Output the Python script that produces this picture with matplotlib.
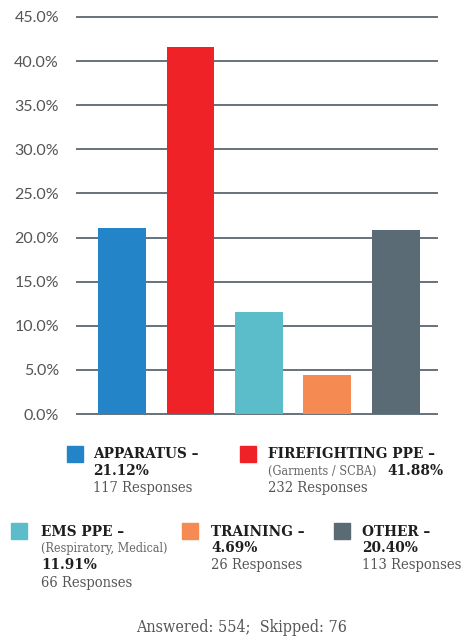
import matplotlib
matplotlib.use("Agg")
import matplotlib.pyplot as plt
from matplotlib.patches import Rectangle

# Bar data
categories = ["APPARATUS", "FIREFIGHTING PPE", "EMS PPE", "TRAINING", "OTHER"]
bar_values = [21.1, 41.6, 11.6, 4.4, 20.8]
colors = ["#2385c7", "#ee2227", "#5abdc9", "#f58a52", "#5b6b76"]

# Legend text
percent_labels = ["21.12%", "41.88%", "11.91%", "4.69%", "20.40%"]
sub_labels = ["", "(Garments / SCBA)", "(Respiratory, Medical)", "", ""]
responses = ["117 Responses", "232 Responses", "66 Responses", "26 Responses", "113 Responses"]
y_ticks = [0, 5, 10, 15, 20, 25, 30, 35, 40, 45]
footer = "Answered: 554;  Skipped: 76"

W, H = 471, 639
fig = plt.figure(figsize=(W / 100, H / 100), dpi=100)

# axes placed in pixel coordinates
ax_left, ax_right, ax_top, ax_bottom = 77, 437, 17, 414
ax = fig.add_axes([ax_left / W, 1 - ax_bottom / H,
                   (ax_right - ax_left) / W, (ax_bottom - ax_top) / H])

x = range(len(categories))
ax.bar(x, bar_values, width=0.70, color=colors, zorder=3)
ax.set_xlim(-0.657, 4.6)
ax.set_ylim(0, 45)
ax.set_yticks(y_ticks)
ax.set_yticklabels([f"{t:.1f}%" for t in y_ticks], fontsize=11.5, color="#555555",
                   family=["Lato", "DejaVu Sans"])
ax.set_xticks([])
ax.tick_params(axis="y", length=0, pad=13)
for t in y_ticks:
    ax.axhline(t, color="#65737d", lw=1.4, zorder=1, clip_on=False)
for s in ax.spines.values():
    s.set_visible(False)


def px(xp, yp):
    return xp / W, 1 - yp / H


def txt(xp, yp, s, **kw):
    fig.text(*px(xp, yp), s, va="baseline", ha="left", **kw)


serif = ["DejaVu Serif"]
bold_kw = dict(fontsize=11, fontweight="bold", color="#1e1e1e", family=serif, fontstretch="condensed")
resp_kw = dict(fontsize=10.5, color="#555555", family=serif, fontstretch="condensed")
small_kw = dict(fontsize=9, color="#666666", family=serif, fontstretch="condensed")


def square(xp, yp, c):
    fig.add_artist(Rectangle(px(xp, yp + 16), 16 / W, 16 / H, color=c,
                             transform=fig.transFigure))


# row 1
square(67, 446, colors[0])
txt(93, 458, categories[0] + " –", **bold_kw)
txt(93, 475, percent_labels[0], **bold_kw)
txt(93, 492, responses[0], **resp_kw)

square(240, 446, colors[1])
txt(268, 458, categories[1] + " –", **bold_kw)
txt(268, 475, sub_labels[1], **small_kw)
txt(387, 475, percent_labels[1], **bold_kw)
txt(268, 492, responses[1], **resp_kw)

# row 2
square(11, 523, colors[2])
txt(41, 536, categories[2] + " –", **bold_kw)
txt(41, 552, sub_labels[2], **small_kw)
txt(41, 569, percent_labels[2], **bold_kw)
txt(41, 587, responses[2], **resp_kw)

square(182, 523, colors[3])
txt(211, 536, categories[3] + " –", **bold_kw)
txt(211, 552, percent_labels[3], **bold_kw)
txt(211, 569, responses[3], **resp_kw)

square(334, 523, colors[4])
txt(362, 536, categories[4] + " –", **bold_kw)
txt(362, 552, percent_labels[4], **bold_kw)
txt(362, 569, responses[4], **resp_kw)

fig.text(*px(242, 632), footer, ha="center", va="baseline", fontsize=11.5,
         color="#555555", family=serif, fontstretch="condensed")

fig.savefig("out.png", dpi=100)
